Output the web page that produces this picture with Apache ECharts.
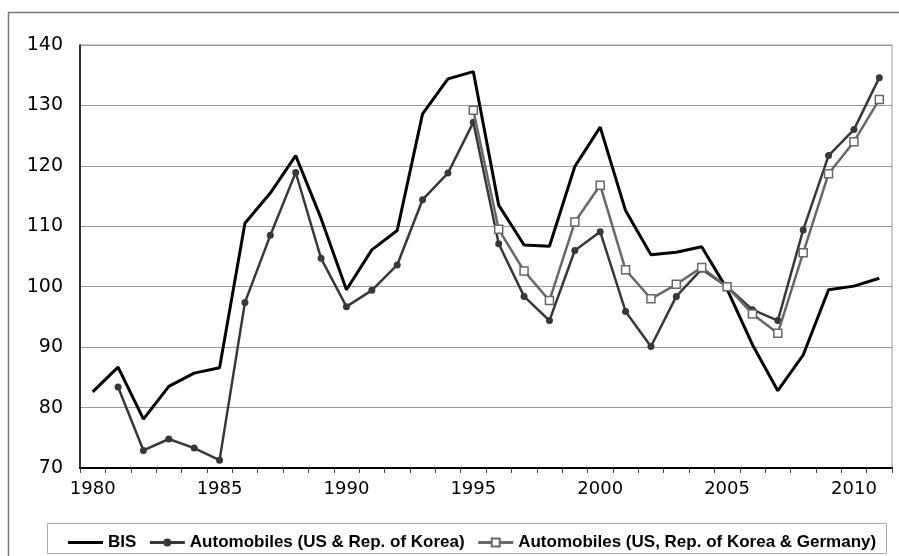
<!DOCTYPE html>
<html><head><meta charset="utf-8">
<script src="https://cdn.jsdelivr.net/npm/echarts@6/dist/echarts.min.js"></script>
<style>html,body{margin:0;padding:0;background:#fff}#c{width:899px;height:556px}</style>
</head><body><div id="c"></div>
<script>
var years = [];
for (var y = 1980; y <= 2011; y++) years.push(String(y));
var bis = [82.6, 86.7, 78.1, 83.5, 85.7, 86.6, 110.5, 115.5, 121.7, 111.3, 99.5, 106.1, 109.3, 128.6, 134.4, 135.6, 113.5, 106.9, 106.7, 119.9, 126.4, 112.6, 105.3, 105.7, 106.6, 99.6, 90.4, 82.8, 88.7, 99.5, 100.1, 101.4];
var autoUSKR = [null, 83.4, 72.9, 74.8, 73.3, 71.3, 97.4, 108.5, 118.9, 104.7, 96.7, 99.4, 103.6, 114.4, 118.8, 127.2, 107.1, 98.4, 94.4, 106.0, 109.1, 95.9, 90.1, 98.4, 102.9, 100.0, 96.2, 94.4, 109.4, 121.7, 126.0, 134.6];
var autoUSKRDE = [null, null, null, null, null, null, null, null, null, null, null, null, null, null, null, 129.2, 109.5, 102.6, 97.7, 110.7, 116.8, 102.8, 98.0, 100.4, 103.2, 100.0, 95.5, 92.3, 105.6, 118.7, 124.0, 131.0];
var seriesNames = ['BIS', 'Automobiles (US & Rep. of Korea)', 'Automobiles (US, Rep. of Korea & Germany)'];

var chart = echarts.init(document.getElementById('c'), null, {renderer: 'canvas'});
chart.setOption({
  animation: false,
  backgroundColor: '#fff',
  graphic: [
    {type: 'rect', shape: {x: 8.5, y: 12.5, width: 1000, height: 1000}, style: {fill: 'none', stroke: '#777', lineWidth: 1.5}, z: -10},
    {type: 'rect', shape: {x: 47.5, y: 523.5, width: 839, height: 30}, style: {fill: '#fff', stroke: '#aaa', lineWidth: 1}, z: -5}
  ],
  grid: {left: 80, top: 45, right: 7, bottom: 88, show: true, borderColor: '#999', borderWidth: 1},
  legend: {
    left: 63, top: 529, itemWidth: 35, itemHeight: 10, itemGap: 12,
    textStyle: {fontFamily: 'Liberation Sans, Arial', fontWeight: 'bold', fontSize: 17, color: '#000'},
    data: [
      {name: seriesNames[0], icon: 'path://M0,0 L35,0 L35,3 L0,3 Z', itemStyle: {color: '#000'}},
      {name: seriesNames[1], lineStyle: {width: 3}},
      {name: seriesNames[2], lineStyle: {width: 3}}
    ]
  },
  xAxis: {
    type: 'category', data: years, boundaryGap: true,
    axisLine: {lineStyle: {color: '#000', width: 2}},
    axisTick: {show: true, interval: 0, alignWithLabel: false, length: 5, lineStyle: {color: '#444', width: 1}},
    axisLabel: {interval: 4, margin: 12, fontFamily: 'DejaVu Sans', fontSize: 18, color: '#000'},
    splitLine: {show: false}
  },
  yAxis: {
    type: 'value', min: 70, max: 140, interval: 10,
    axisLine: {show: true, lineStyle: {color: '#000', width: 1.5}},
    axisTick: {show: false},
    axisLabel: {margin: 17, fontFamily: 'DejaVu Sans', fontSize: 19, color: '#000'},
    splitLine: {lineStyle: {color: '#999', width: 1}}
  },
  series: [
    {name: seriesNames[0], type: 'line', data: bis, symbol: 'none', z: 3,
     lineStyle: {color: '#000', width: 3}, itemStyle: {color: '#000'}},
    {name: seriesNames[1], type: 'line', data: autoUSKR, symbol: 'circle', symbolSize: 7, z: 4,
     lineStyle: {color: '#383838', width: 2.5}, itemStyle: {color: '#383838'}},
    {name: seriesNames[2], type: 'line', data: autoUSKRDE, symbol: 'rect', symbolSize: 8, z: 5,
     lineStyle: {color: '#686868', width: 2.5}, itemStyle: {color: '#fff', borderColor: '#686868', borderWidth: 1.5}}
  ]
});
</script></body></html>
